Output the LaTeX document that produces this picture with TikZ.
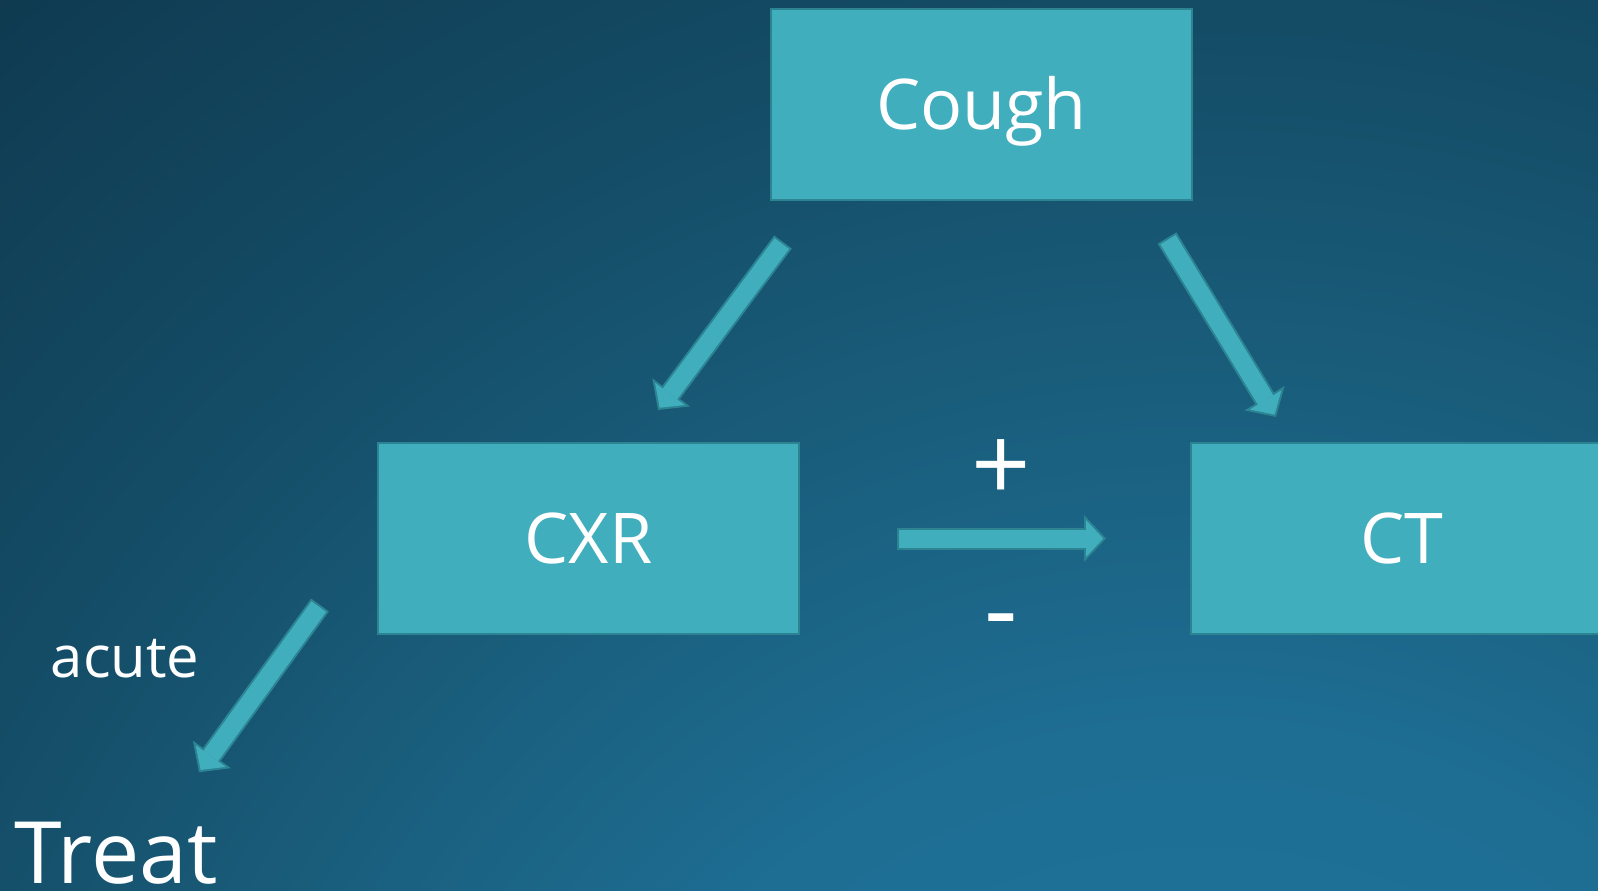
\documentclass[tikz,border=0pt]{standalone}
\usepackage{fontspec}
\setmainfont{Open Sans}
\usetikzlibrary{arrows.meta,calc,positioning}

\definecolor{bgin}{RGB}{33,120,160}
\definecolor{bgnear}{RGB}{30,110,148}
\definecolor{bgmid}{RGB}{25,92,122}
\definecolor{bgfar}{RGB}{20,76,102}
\definecolor{bgout}{RGB}{15,58,80}
\definecolor{boxfill}{RGB}{65,174,190}
\definecolor{boxline}{RGB}{44,132,146}

\pgfdeclareradialshading{slidebg}{\pgfpointorigin}{%
    color(0bp)=(bgin); color(8.8bp)=(bgnear); color(14.2bp)=(bgmid);
    color(18.6bp)=(bgfar); color(25bp)=(bgout); color(50bp)=(bgout)}

\tikzset{
    box/.style = {
        draw = boxline,
        fill = boxfill,
        line width = 1pt,
        minimum width = 210.5pt,
        minimum height = 95.5pt,
        text = white,
        text height = 25pt,
        text depth = 0pt,
        font = \fontsize{35pt}{42pt}\selectfont,
        },
    small text/.style = {
        text = white,
        inner sep = 0pt,
        font = \fontsize{29pt}{35pt}\selectfont,
        },
    big text/.style = {
        text = white,
        inner sep = 0pt,
        font = \fontsize{43pt}{50pt}\selectfont,
        },
    sign/.style = {
        text = white,
        inner sep = 0pt,
        font = \fontsize{52pt}{60pt}\selectfont,
        },
    blockarrow/.style = {
        draw = boxline,
        line width = 11pt,
        -{Triangle[width=23.5pt,length=11pt,line width=0pt]},
        postaction = {
            draw = boxfill,
            line width = 9pt,
            -{Triangle[width=18.5pt,length=8.6pt,line width=0pt]},
            shorten > = 1.4pt,
            shorten < = 1pt,
            },
        },
}

\begin{document}
\begin{tikzpicture}[x=0.5pt,y=-0.5pt]
    \useasboundingbox (0,0) rectangle (1598,890);
    \begin{scope}
        \clip (0,0) rectangle (1598,890);
        \shade[shading=slidebg] (1200,1400) circle (1850);
    \end{scope}

    \node[box] (cough) at (981.5,104.5) {Cough};
    \node[box] (cxr) at (588.5,538.5) {CXR};
    \node[box, right=195pt of cxr] (ct) {CT};
    \node[big text, anchor=base west] (treat) at (14,883) {Treat};
    \node[small text] (acute) at (125,659) {acute};

    % arrows between the boxes
    \draw[blockarrow] ($(cough.south west)+(13,41)$) -- ($(cxr.north)+(69.5,-32)$);
    \draw[blockarrow] ($(cough.south east)+(-26,37)$) -- ($(ct.north)+(-125.5,-25)$);
    \draw[blockarrow] ($(cxr.east)+(97,0)$) -- ($(ct.west)+(-84,0)$)
        node[sign, midway, above=13pt] (plus) {+}
        node[sign, midway, below=32pt] (minus) {-};
    \draw[blockarrow] ($(cxr.south west)+(-57,-30)$) -- ($(treat.north west)+(185,-49)$);
\end{tikzpicture}
\end{document}
